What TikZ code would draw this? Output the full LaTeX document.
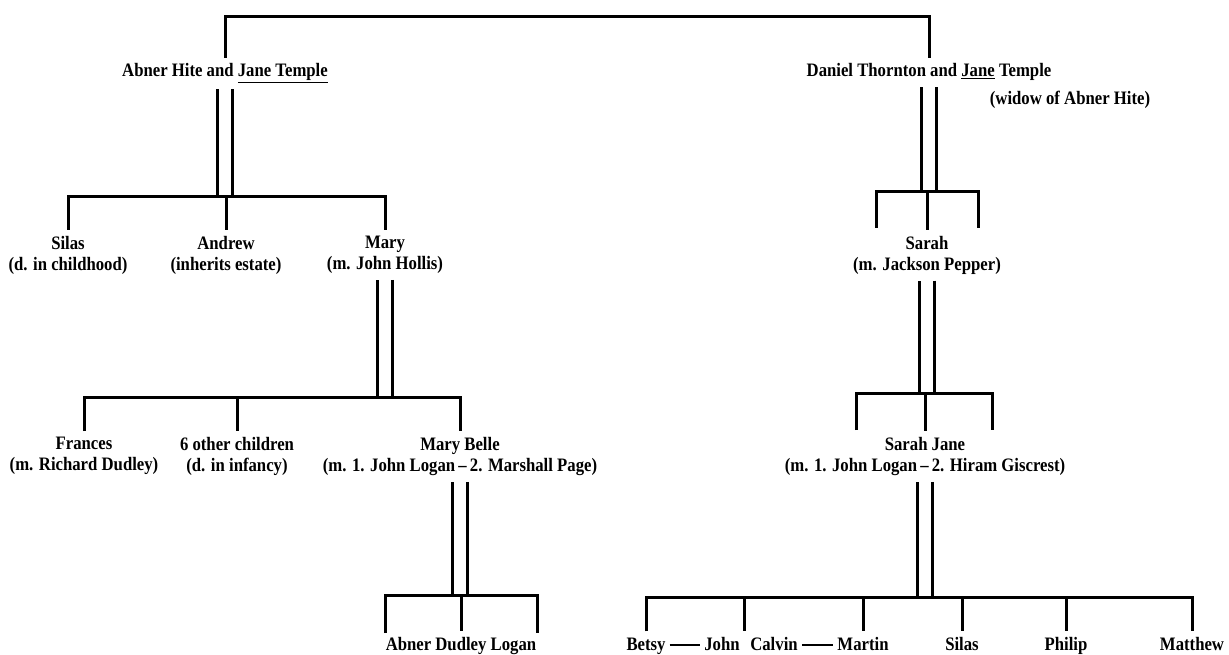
\documentclass[tikz,border=0pt]{standalone}
\usepackage{fontspec}
\setmainfont{Liberation Serif}[FakeStretch=0.88]
\usepackage{tikz}
\usetikzlibrary{
  positioning,
  calc
}

\begin{document}
\begin{tikzpicture}[x=1pt, y=-1pt,
  every node/.style={font=\fontsize{19}{21}\selectfont\bfseries, inner xsep=4pt, inner ysep=6pt, align=center},
  bar/.style={line width=3pt},
  kin/.style={double, double distance=12pt, line width=2.6pt}]
\useasboundingbox (0,0) rectangle (1229,655);

% first marriages
\node[anchor=base] (AH) at (225,77) {Abner Hite and \underline{Jane Temple}};
\node[anchor=base] (DT) at (929,77) {Daniel Thornton and \underline{Jane} Temple};
\node[anchor=base] (widow) at (1070,105) {(widow of Abner Hite)};
\coordinate (top) at (577,17);

% children
\node[anchor=north] (Silas) at (68,230) {Silas\\(d. in childhood)};
\node[anchor=north] (Andrew) at (226,230) {Andrew\\(inherits estate)};
\node[anchor=north] (Mary) at (385,230) {Mary\\(m. John Hollis)};
\node[anchor=north] (Sarah) at (927,230) {Sarah\\(m. Jackson Pepper)};
\coordinate (b1) at (226,197);
\coordinate (b2) at (927,192);
\coordinate (r1a) at (876,228);
\coordinate (r1b) at (978,228);

% grandchildren
\node[anchor=north] (Frances) at (84,431) {Frances\\(m. Richard Dudley)};
\node[anchor=north] (Other) at (237,431) {6 other children\\(d. in infancy)};
\node[anchor=north] (MB) at (460,431) {Mary Belle\\(m. 1. John Logan\,--\,2. Marshall Page)};
\node[anchor=north] (SJ) at (925,431) {Sarah Jane\\(m. 1. John Logan\,--\,2. Hiram Giscrest)};
\coordinate (b3) at (237,397);
\coordinate (b4) at (925,393);
\coordinate (r2a) at (856,430);
\coordinate (r2b) at (992,430);

% last row
\node[anchor=base] (ADL) at (461,650) {Abner Dudley Logan};
\node[anchor=base] (Betsy) at (646,650) {Betsy};
\node[anchor=base] (John) at (722,650) {John};
\node[anchor=base] (Calvin) at (774,650) {Calvin};
\node[anchor=base] (Martin) at (863,650) {Martin};
\node[anchor=base] (Silas2) at (962,650) {Silas};
\node[anchor=base] (Philip) at (1066,650) {Philip};
\node[anchor=base] (Matthew) at (1192,650) {Matthew};
\coordinate (b5) at (461,595);
\coordinate (b6) at (925,597);
\coordinate (l3a) at (385,633);
\coordinate (l3b) at (537,633);
\coordinate (jc) at ($(John.north east)!0.5!(Calvin.north west)$);

% double lines of descent
\draw[kin] (AH.south) -- (AH.south |- b1);
\draw[kin] (DT.south) -- (DT.south |- b2);
\draw[kin] (Mary.south) -- (Mary.south |- b3);
\draw[kin] (Sarah.south) -- (Sarah.south |- b4);
\draw[kin] (MB.south) -- (MB.south |- b5);
\draw[kin] (SJ.south) -- (SJ.south |- b6);

% brackets
\draw[bar] (AH.north) |- (top) -| (DT.north);
\draw[bar] (Silas.north) |- (b1) -| (Mary.north);
\draw[bar] (Andrew.north |- b1) -- (Andrew.north);
\draw[bar] (r1a) |- (b2) -| (r1b);
\draw[bar] (b2) -- (Sarah.north);
\draw[bar] (Frances.north) |- (b3) -| (MB.north);
\draw[bar] (b3) -- (Other.north);
\draw[bar] (r2a) |- (b4) -| (r2b);
\draw[bar] (b4) -- (SJ.north);
\draw[bar] (l3a) |- (b5) -| (l3b);
\draw[bar] (b5) -- (ADL.north);
\draw[bar] (Betsy.north) |- (b6) -| (Matthew.north);
\foreach \n in {jc, Martin.north, Silas2.north, Philip.north}
  \draw[bar] (\n |- b6) -- (\n);

% marriages in last row
\draw[line width=1.2pt] ($(Betsy.base east)+(0,-5)$) -- ($(John.base west)+(0,-5)$);
\draw[line width=1.2pt] ($(Calvin.base east)+(0,-5)$) -- ($(Martin.base west)+(0,-5)$);
\end{tikzpicture}
\end{document}
